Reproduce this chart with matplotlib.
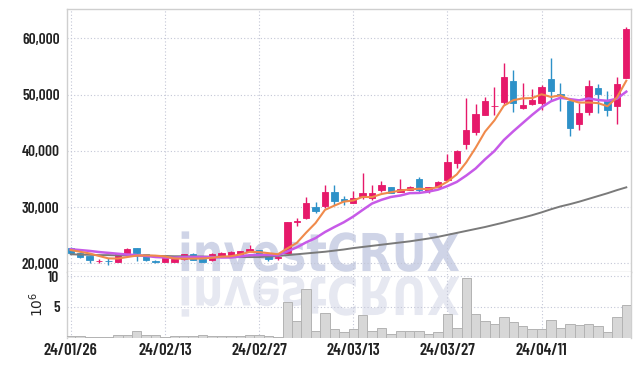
import matplotlib
matplotlib.use('Agg')
import matplotlib.pyplot as plt
import numpy as np
import pandas as pd
from matplotlib.textpath import TextPath
from matplotlib.font_manager import FontProperties
from matplotlib.patches import PathPatch
from matplotlib.path import Path
from matplotlib.transforms import Affine2D
from matplotlib.ticker import FuncFormatter

W, H = 639, 366

# trading days (KRX holidays removed)
holidays = ['2024-02-09', '2024-02-12', '2024-03-01', '2024-04-10']
dates = pd.bdate_range('2024-01-26', '2024-04-24').drop(pd.to_datetime(holidays))

opens = [22800, 21900, 21300, 20350, 20450, 20300, 21900, 22650, 21600, 20450,
         20250, 20250, 20700, 21700, 20750, 20500, 21300, 21450, 21650, 22200,
         22350, 21600, 20950, 21800, 27350, 28100, 30050, 30250, 32600, 31400,
         30800, 31950, 31650, 33050, 33550, 32750, 33050, 35000, 32900, 33600,
         34750, 37900, 41200, 43300, 46350, 47900, 48600, 52400, 47550, 48250,
         48450, 52750, 50000, 48850, 44700, 46850, 51150, 49050, 48000, 53000]
highs = [22950, 21950, 21350, 20800, 20900, 21800, 22650, 22700, 21650, 20550,
         21100, 20800, 21650, 21750, 20800, 21750, 22000, 22100, 22250, 23200,
         22400, 21650, 21300, 27350, 28000, 31850, 30850, 34000, 33900, 31950,
         32800, 36000, 33900, 34550, 33600, 34900, 33650, 35400, 33550, 34550,
         39500, 40050, 49300, 48250, 49600, 51300, 55550, 54350, 52100, 50900,
         51700, 56450, 52000, 48900, 48450, 52600, 51800, 50700, 53050, 62000]
lows = [21800, 21000, 20100, 20000, 19750, 20250, 21800, 20400, 20450, 20100,
        20200, 20150, 20600, 20550, 20150, 20400, 21250, 21400, 21600, 22150,
        21350, 20400, 20500, 21750, 26700, 27900, 28900, 29900, 30350, 30350,
        30700, 31400, 31300, 32700, 32500, 32700, 33000, 32650, 32500, 33550,
        34700, 36900, 40300, 42850, 46300, 46350, 48300, 46850, 47500, 48200,
        47250, 49050, 47050, 42650, 43700, 46350, 46650, 46250, 44750, 52900]
closes = [21900, 21200, 20500, 20400, 20350, 21750, 22550, 21800, 20550, 20150,
          21050, 20750, 21600, 20600, 20250, 21700, 21750, 21950, 22200, 22550,
          21500, 20800, 21000, 27350, 27450, 30650, 29350, 32650, 31150, 31000,
          31650, 32550, 32450, 33900, 32550, 33200, 33550, 33050, 33500, 34500,
          37950, 40000, 43700, 46500, 48850, 48000, 53050, 48550, 48150, 49050,
          51400, 50700, 49950, 44100, 46650, 51500, 50150, 47200, 51800, 61600]
# volume in millions of shares
volumes = [0.3, 0.2, 0.15, 0.1, 0.15, 0.35, 0.4, 1.0, 0.45, 0.4,
           0.15, 0.2, 0.2, 0.25, 0.35, 0.2, 0.25, 0.2, 0.3, 0.45,
           0.35, 0.3, 0.15, 5.75, 2.7, 7.9, 1.06, 3.95, 1.4, 0.85,
           1.4, 3.7, 1.06, 1.6, 0.6, 1.06, 1.0, 1.06, 0.5, 0.85,
           3.8, 1.55, 9.7, 3.8, 2.65, 2.15, 3.3, 2.5, 1.85, 1.35,
           1.35, 2.8, 1.5, 2.15, 2.0, 2.15, 1.85, 0.95, 3.3, 5.25]
ma5 = [22350, 22050, 21750, 21300, 20870, 20840, 21110, 21370, 21400, 21360,
       21220, 20860, 20820, 20830, 20850, 20980, 21180, 21250, 21570, 22030,
       21990, 21800, 21610, 22640, 23620, 25450, 27160, 29490, 30250, 30960,
       31160, 31800, 31760, 32310, 32620, 32930, 33130, 33250, 33170, 33560,
       34510, 35800, 37930, 40530, 43400, 45410, 48020, 48990, 49320, 49360,
       50040, 49570, 49850, 49040, 48560, 48580, 48470, 47920, 49460, 52450]
ma10 = [22500, 22350, 22200, 22000, 21850, 21700, 21550, 21450, 21300, 21115,
        21030, 20985, 21095, 21115, 21105, 21100, 21020, 21035, 21200, 21440,
        21485, 21490, 21430, 22105, 22825, 23720, 24480, 25550, 26445, 27290,
        28305, 29480, 30625, 31280, 31790, 32045, 32465, 32505, 32740, 33090,
        33720, 34465, 35590, 36850, 38480, 39960, 41910, 43460, 44925, 46380,
        47725, 48795, 49420, 49180, 48960, 49310, 49020, 48885, 49250, 50505]
ma60 = [21600, 21550, 21500, 21450, 21450, 21400, 21400, 21350, 21350, 21300,
        21300, 21250, 21250, 21200, 21200, 21150, 21150, 21100, 21100, 21100,
        21100, 21200, 21300, 21450, 21600, 21750, 21900, 22050, 22250, 22450,
        22700, 22900, 23100, 23300, 23500, 23700, 23900, 24150, 24400, 24700,
        25050, 25400, 25750, 26100, 26450, 26850, 27250, 27700, 28100, 28550,
        29050, 29600, 30100, 30500, 30950, 31450, 31950, 32450, 33000, 33500]

UP, DOWN = '#e6196a', '#2d91c8'
TXT = '#222222'
SPINE = '#cfcfcf'
GRID = '#c3c6d6'

plt.rcParams['font.family'] = ['Barlow Condensed', 'DejaVu Sans']

fig = plt.figure(figsize=(W / 100, H / 100), dpi=100)
ax = fig.add_axes([66.5 / W, 1 - 272 / H, (631 - 66.5) / W, (272 - 9) / H])
axv = fig.add_axes([66.5 / W, 1 - 337.5 / H, (631 - 66.5) / W, (337.5 - 272) / H], sharex=ax)

x = np.arange(len(dates))
o, h, l, c = map(np.array, (opens, highs, lows, closes))
up = c >= o
cols = np.where(up, UP, DOWN)

ax.vlines(x, l, h, colors=cols, linewidth=1.0, zorder=3)
body = np.maximum(np.abs(c - o), 90)
ax.bar(x, body, bottom=np.minimum(o, c), width=0.68, color=cols,
       edgecolor=cols, linewidth=0.6, zorder=4)

ax.plot(x, ma60, color='#7a7a7a', lw=1.4, zorder=5)
ax.plot(x, ma10, color='#c75ae8', lw=1.8, zorder=5)
ax.plot(x, ma5, color='#f08a4b', lw=1.5, zorder=6)

axv.bar(x, volumes, width=1.0, color='#d7d7d7', edgecolor='#b3b3b3',
        linewidth=0.7, zorder=3)

ax.set_xlim(-0.45, 59.5)
ax.set_ylim(18450, 65200)
axv.set_ylim(0, 10.7)

ticks = x[::10]
ax.set_xticks(ticks)
axv.set_xticks(ticks)
axv.set_xticklabels([d.strftime('%y/%m/%d') for d in dates[::10]])
ax.tick_params(axis='x', labelbottom=False)
ax.set_yticks([20000, 30000, 40000, 50000, 60000])
ax.yaxis.set_major_formatter(FuncFormatter(lambda v, p: f'{int(v):,}'))
axv.set_yticks([5, 10])

for a in (ax, axv):
    a.set_axisbelow(True)
    a.grid(True, color=GRID, linestyle=(0, (1, 2)), linewidth=0.8)
    a.tick_params(length=0, pad=5, labelsize=11, labelcolor=TXT)
    for s in a.spines.values():
        s.set_color(SPINE)
        s.set_linewidth(1.0)
    for lab in a.get_yticklabels() + a.get_xticklabels():
        lab.set_fontweight(600)
axv.spines['top'].set_visible(False)
axv.spines['bottom'].set_visible(False)
axv.tick_params(axis='x', labelsize=12, pad=4)
axv.set_ylabel('$10^6$', fontsize=10, color=TXT, labelpad=2)

# watermark with reflection
tp = TextPath((0, 0), 'investCRUX', size=1,
              prop=FontProperties(family='DejaVu Sans', weight='bold'))
v = tp.vertices
x0, x1 = v[:, 0].min(), v[:, 0].max()
sx = (459 - 178) / (x1 - x0)
sy = 38 / 0.729
to_fig = Affine2D().scale(1 / W, 1 / H) + fig.transFigure
main_v = np.column_stack([178 + (v[:, 0] - x0) * sx, H - (271 - v[:, 1] * sy)])
refl_v = np.column_stack([178 + (v[:, 0] - x0) * sx, H - (277 + v[:, 1] * sy)])
ax.add_patch(PathPatch(Path(main_v, tp.codes), transform=to_fig, facecolor='#cfd4e7',
                       edgecolor='none', zorder=0.3, clip_on=False))
axv.add_patch(PathPatch(Path(refl_v, tp.codes), transform=to_fig, facecolor='#e6e8f1',
                        edgecolor='none', zorder=0.3, clip_on=False))

fig.savefig('out.png', dpi=100)
